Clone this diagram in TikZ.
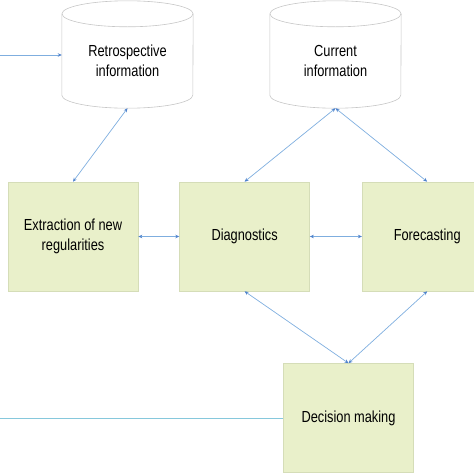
\documentclass[tikz,border=0pt]{standalone}
\usepackage{fontspec}
\newfontfamily\boxfont[FakeStretch=0.8]{Liberation Sans}
\usetikzlibrary{arrows.meta,calc,positioning}
\definecolor{link}{HTML}{7FAEDF}
\definecolor{tip}{HTML}{4F83CC}
\definecolor{feed}{HTML}{86C8DC}
\definecolor{boxfill}{HTML}{E9F0CA}
\definecolor{boxline}{HTML}{D5DDB8}
\definecolor{drum}{HTML}{C6C6C6}
\newcommand{\boxtext}{\boxfont\fontsize{16}{20}\selectfont}
\tikzset{stage/.style={draw=boxline,fill=boxfill,line width=.6pt,minimum width=130pt,minimum height=109pt,align=center,inner sep=0pt,font=\boxtext},store/.style={minimum width=131pt,minimum height=94pt,align=center,inner sep=0pt,font=\boxtext},drumline/.style={draw=drum,line width=.6pt},link/.style={{Stealth[length=4pt,width=3.5pt,color=tip]}-{Stealth[length=4pt,width=3.5pt,color=tip]},draw=link,line width=.7pt},feedin/.style={-{Stealth[length=4pt,width=3.5pt,color=tip]},draw=link,line width=.7pt},feedout/.style={draw=feed,line width=.9pt}}

\begin{document}
\begin{tikzpicture}[x=1pt,y=-1pt]
\clip (0,0) rectangle (474,474);
\node[store] (retro) at (127.5,61) {Retrospective\\information};
\node[store] (curr) at (335.5,61) {Current\\information};
\foreach \n in {retro,curr}{
\draw[drumline] (\n.north west) -- ([yshift=13pt]\n.south west) arc[start angle=180,end angle=360,x radius=65.5pt,y radius=13pt] -- (\n.north east);
\draw[drumline] (\n.north) ellipse[x radius=65.5pt,y radius=13pt];}
\node[stage] (extr) at (73,236.5) {Extraction of new\\regularities};
\node[stage,right=41pt of extr] (diag) {Diagnostics};
\node[stage,right=52pt of diag] (fore) {Forecasting};
\node[stage] (dec) at (348.5,418) {Decision making};
\coordinate (in) at (0,55);
\coordinate (out) at (0,418);
\draw[feedin] (in) -- (in -| retro.west);
\draw[link] (extr.north) -- (retro.south);
\draw[link] (diag.north) -- (curr.south);
\draw[link] (fore.north) -- (curr.south);
\draw[link] (extr.east) -- (diag.west);
\draw[link] (diag.east) -- (fore.west);
\draw[link] (diag.south) -- (dec.north);
\draw[link] (fore.south) -- (dec.north);
\draw[feedout] (dec.west) -- (out);
\end{tikzpicture}
\end{document}
